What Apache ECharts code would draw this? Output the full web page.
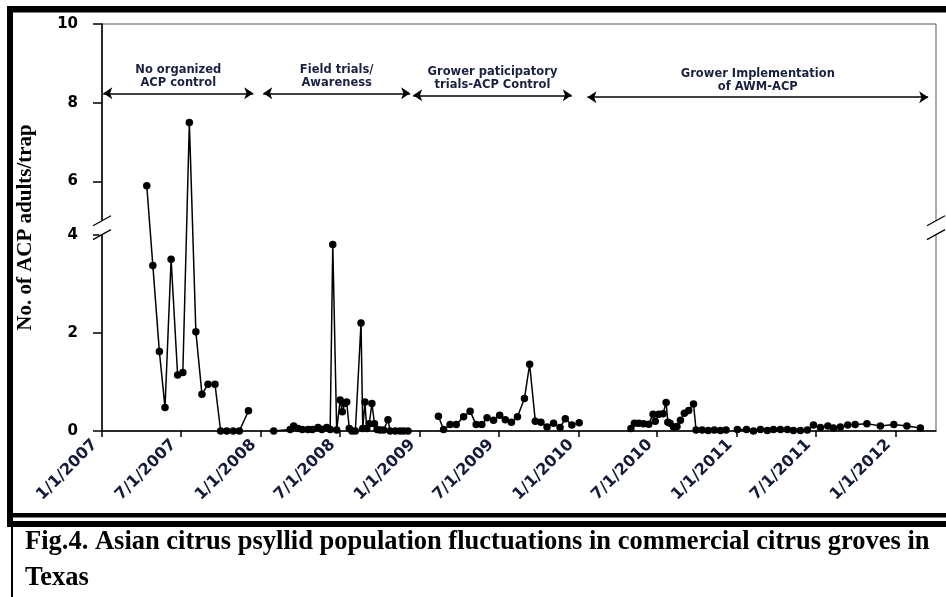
<!DOCTYPE html>
<html>
<head>
<meta charset="utf-8">
<script src="https://cdn.jsdelivr.net/npm/echarts@6.0.0/dist/echarts.min.js"></script>
<style>
  html, body { margin: 0; padding: 0; background: #fff; }
  #chart { width: 946px; height: 597px; }
</style>
</head>
<body>
<div id="chart"></div>
<script>
// trap counts (null = no sampling, line breaks)
const sampleDates = [
  "2007-04-14", "2007-04-28", "2007-05-13", "2007-05-26", "2007-06-09", "2007-06-24",
  "2007-07-06", "2007-07-21", "2007-08-05", "2007-08-19", "2007-09-02", "2007-09-18",
  "2007-10-01", "2007-10-15", "2007-10-30", "2007-11-13", "2007-12-04", "2007-12-20",
  "2008-01-31", "2008-03-09", "2008-03-17", "2008-03-27", "2008-04-06", "2008-04-19",
  "2008-04-29", "2008-05-12", "2008-05-21", "2008-06-01", "2008-06-09", "2008-06-15",
  "2008-06-24", "2008-07-02", "2008-07-07", "2008-07-12", "2008-07-17", "2008-07-23",
  "2008-07-29", "2008-08-06", "2008-08-19", "2008-08-23", "2008-08-28", "2008-09-01",
  "2008-09-07", "2008-09-13", "2008-09-19", "2008-09-25", "2008-10-02", "2008-10-10",
  "2008-10-20", "2008-10-25", "2008-11-06", "2008-11-17", "2008-11-25", "2008-12-05",
  "2009-01-10",
  "2009-02-13", "2009-02-25", "2009-03-12", "2009-03-26", "2009-04-12", "2009-04-27",
  "2009-05-11", "2009-05-24", "2009-06-05", "2009-06-20", "2009-07-04", "2009-07-17",
  "2009-07-31", "2009-08-14", "2009-08-30", "2009-09-11", "2009-09-24", "2009-10-07",
  "2009-10-21", "2009-11-05", "2009-11-20", "2009-12-02", "2009-12-17", "2010-01-03",
  "2010-03-01",
  "2010-05-02", "2010-05-10", "2010-05-20", "2010-05-31", "2010-06-12", "2010-06-22",
  "2010-06-27", "2010-07-05", "2010-07-15", "2010-07-22", "2010-07-26", "2010-07-31",
  "2010-08-08", "2010-08-16", "2010-08-24", "2010-09-02", "2010-09-12", "2010-09-23",
  "2010-09-29", "2010-10-13", "2010-10-27", "2010-11-10", "2010-11-24", "2010-12-07",
  "2010-12-20",
  "2011-01-02", "2011-01-23", "2011-02-08", "2011-02-24", "2011-03-12", "2011-03-26",
  "2011-04-11", "2011-04-27", "2011-05-11", "2011-05-27", "2011-06-12", "2011-06-26",
  "2011-07-12", "2011-07-29", "2011-08-11", "2011-08-27", "2011-09-13", "2011-09-30",
  "2011-10-27", "2011-11-27", "2011-12-28", "2012-01-27", "2012-02-27"
];
const adultsPerTrap = [
  5.89, 3.37, 1.62, 0.48, 3.50, 1.14,
  1.19, 7.50, 2.02, 0.75, 0.95, 0.95,
  0, 0, 0, 0, 0.41, null,
  0, 0.03, 0.10, 0.05, 0.03, 0.03,
  0.03, 0.07, 0.03, 0.07, 0.03, 3.80,
  0.02, 0.63, 0.39, 0.56, 0.59, 0.05,
  0, 0, 2.20, 0.05, 0.59, 0.05,
  0.15, 0.56, 0.15, 0.03, 0.02, 0.02,
  0.23, 0, 0, 0, 0, 0,
  null,
  0.30, 0.03, 0.13, 0.13, 0.29, 0.40,
  0.13, 0.13, 0.27, 0.22, 0.32, 0.23,
  0.18, 0.29, 0.66, 1.36, 0.20, 0.18,
  0.08, 0.16, 0.07, 0.25, 0.12, 0.17,
  null,
  0.05, 0.16, 0.16, 0.15, 0.14, 0.34,
  0.20, 0.34, 0.35, 0.58, 0.18, 0.16,
  0.08, 0.09, 0.22, 0.36, 0.42, 0.55,
  0.02, 0.02, 0.01, 0.02, 0.01, 0.02,
  null,
  0.03, 0.03, 0.00, 0.03, 0.01, 0.03,
  0.03, 0.03, 0.01, 0.01, 0.02, 0.12,
  0.07, 0.10, 0.06, 0.08, 0.12, 0.13,
  0.15, 0.10, 0.13, 0.10, 0.06
];

const xTickDates = [
  "2007-01-01", "2007-07-01", "2008-01-01", "2008-07-01", "2009-01-01", "2009-07-01",
  "2010-01-01", "2010-07-01", "2011-01-01", "2011-07-01", "2012-01-01"
];
const yTickValues = [0, 2, 4, 6, 8, 10];

const phaseNames = [
  "No organized\nACP control",
  "Field trials/\nAwareness",
  "Grower paticipatory\ntrials-ACP Control",
  "Grower Implementation\nof AWM-ACP"
];
const phaseStart = ["2007-01-04", "2008-01-07", "2008-12-17", "2010-01-22"];
const phaseEnd = ["2007-12-15", "2008-12-10", "2009-12-17", "2012-03-16"];
const phaseLevel = [8.24, 8.24, 8.19, 8.14];

// broken y axis: 0-4 keeps its scale, 5-10 is squeezed above the break
const UP_BASE = 5.083, UP_K = 0.802;
function toAxis(v) {
  if (v == null) return null;
  if (v <= 4) return v;
  if (v >= 5) return UP_BASE + (v - 6) * UP_K;
  return 4 + (v - 4) * (UP_BASE - UP_K - 4);
}
function fromAxis(a) {
  if (a <= 4.0001) return a;
  return 6 + (a - UP_BASE) / UP_K;
}
function ts(s) {
  const p = s.split("-");
  return new Date(+p[0], +p[1] - 1, +p[2]).getTime();
}

const chart = echarts.init(document.getElementById("chart"));

const lineData = sampleDates.map((d, i) => [ts(d), toAxis(adultsPerTrap[i])]);
const phaseLines = phaseNames.map((n, i) => [
  { name: n, coord: [ts(phaseStart[i]), toAxis(phaseLevel[i])] },
  { coord: [ts(phaseEnd[i]), toAxis(phaseLevel[i])] }
]);

const option = {
  animation: false,
  grid: {
    left: 102, top: 24, right: 10, bottom: 166,
    show: true, borderColor: "#555", borderWidth: 1
  },
  xAxis: {
    type: "value",
    min: ts("2007-01-01"),
    max: ts("2012-04-03"),
    axisLine: { lineStyle: { color: "#000", width: 1.5 } },
    axisTick: {
      customValues: xTickDates.map(ts),
      length: 6,
      lineStyle: { color: "#000", width: 1.5 }
    },
    axisLabel: {
      customValues: xTickDates.map(ts),
      rotate: 45,
      margin: 4,
      padding: [0, 10, 0, 0],
      color: "#141a38",
      fontFamily: "DejaVu Sans",
      fontWeight: "bold",
      fontSize: 16,
      formatter: function (val) {
        const d = new Date(val);
        return (d.getMonth() + 1) + "/" + d.getDate() + "/" + d.getFullYear();
      }
    },
    splitLine: { show: false }
  },
  yAxis: {
    type: "value",
    min: 0,
    max: toAxis(10),
    name: "No. of ACP adults/trap",
    nameLocation: "middle",
    nameGap: 66,
    nameTextStyle: {
      fontFamily: "Liberation Serif",
      fontWeight: "bold",
      fontSize: 21,
      color: "#000"
    },
    axisLine: { show: true, lineStyle: { color: "#000", width: 1.5 } },
    axisTick: {
      show: true,
      customValues: yTickValues.map(toAxis),
      length: 9,
      lineStyle: { color: "#000", width: 1.5 }
    },
    axisLabel: {
      customValues: yTickValues.map(toAxis),
      margin: 24,
      color: "#000",
      fontFamily: "DejaVu Sans",
      fontWeight: "bold",
      fontSize: 15,
      formatter: function (val) {
        return String(Math.round(fromAxis(val)));
      }
    },
    splitLine: { show: false }
  },
  series: [
    {
      type: "line",
      data: lineData,
      connectNulls: false,
      symbol: "circle",
      symbolSize: 7.5,
      lineStyle: { color: "#000", width: 1.5 },
      itemStyle: { color: "#000" },
      markLine: {
        silent: true,
        animation: false,
        symbol: ["arrow", "arrow"],
        symbolSize: 9,
        lineStyle: { color: "#000", width: 1.5, type: "solid" },
        label: {
          show: true,
          position: "middle",
          distance: 4,
          formatter: "{b}",
          color: "#1a2040",
          fontFamily: "DejaVu Sans",
          fontWeight: "bold",
          fontSize: 11.5,
          lineHeight: 13
        },
        data: phaseLines
      }
    }
  ]
};
chart.setOption(option);

// frame around the figure and caption
const frame = [
  { type: "rect", shape: { x: 7, y: 6, width: 939, height: 6.5 }, style: { fill: "#000" } },
  { type: "rect", shape: { x: 7, y: 6, width: 6, height: 521 }, style: { fill: "#000" } },
  { type: "rect", shape: { x: 7, y: 513, width: 939, height: 4.5 }, style: { fill: "#000" } },
  { type: "rect", shape: { x: 7, y: 521, width: 939, height: 6 }, style: { fill: "#000" } },
  { type: "rect", shape: { x: 11, y: 527, width: 2, height: 70 }, style: { fill: "#000" } },
  {
    type: "text", left: 25, top: 524,
    style: {
      text: "Fig.4. Asian citrus psyllid population fluctuations in commercial citrus groves in\nTexas",
      font: "bold 26.5px 'Liberation Serif'",
      lineHeight: 36,
      fill: "#000"
    }
  }
];

// break marks on both vertical axes
const lo = chart.convertToPixel({ gridIndex: 0 }, [ts("2007-01-01"), 4]);
const hi = chart.convertToPixel({ gridIndex: 0 }, [ts("2007-01-01"), toAxis(5)]);
const rightX = chart.convertToPixel({ gridIndex: 0 }, [ts("2012-04-03"), 0])[0];
[lo[0], rightX].forEach(function (x) {
  frame.push({
    type: "rect", z: 100,
    shape: { x: x - 3, y: hi[1], width: 6, height: lo[1] - hi[1] },
    style: { fill: "#fff" }
  });
  [hi[1], lo[1]].forEach(function (y) {
    frame.push({
      type: "line", z: 101,
      shape: { x1: x - 9, y1: y + 5, x2: x + 9, y2: y - 5 },
      style: { stroke: "#000", lineWidth: 1.2 }
    });
  });
});

chart.setOption({ graphic: frame });
</script>
</body>
</html>
